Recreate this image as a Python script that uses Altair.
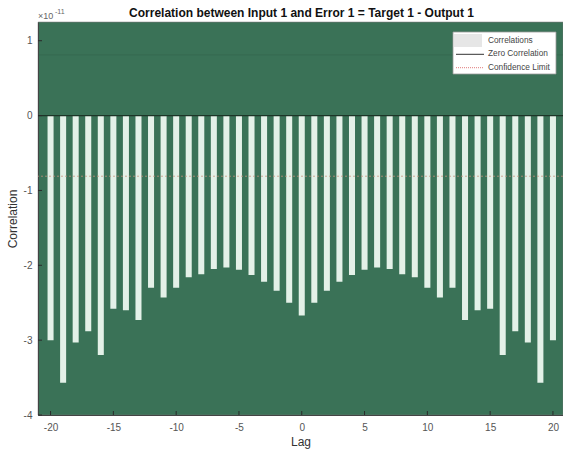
import altair as alt
import pandas as pd

# ---- data (values in units of 1e-11) ----
lags = list(range(-20, 21))
corr = [-3.00, -3.57, -3.03, -2.88, -3.20, -2.58, -2.60, -2.73, -2.30, -2.43,
        -2.30, -2.16, -2.12, -2.05, -2.03, -2.06, -2.13, -2.22, -2.34, -2.50,
        -2.67,
        -2.50, -2.34, -2.22, -2.13, -2.06, -2.03, -2.05, -2.12, -2.16, -2.30,
        -2.43, -2.30, -2.73, -2.60, -2.58, -3.20, -2.88, -3.03, -3.57, -3.00]
conf_limit = [0.81, -0.81]
x_ticks = [-20, -15, -10, -5, 0, 5, 10, 15, 20]
y_ticks = [-4, -3, -2, -1, 0, 1]
legend_labels = ["Correlations", "Zero Correlation", "Confidence Limit"]
chart_title = "Correlation between Input 1 and Error 1 = Target 1 - Output 1"

W, H = 525, 393
FONT = "Liberation Sans"
xs = alt.Scale(domain=[-21, 20.8], nice=False, zero=False)
ys = alt.Scale(domain=[-4, 1.25], nice=False, zero=False)
x_axis = alt.Axis(values=x_ticks, title="Lag", grid=False, ticks=False,
                  labelPadding=7, titlePadding=4, labelExpr="'' + datum.value")
y_axis = alt.Axis(values=y_ticks, title="Correlation", grid=False,
                  ticks=False, labelPadding=6, titlePadding=4,
                  labelExpr="'' + datum.value")

df = pd.DataFrame({"lag": lags, "corr": corr})
df["x0"] = df["lag"] - 0.24
df["x1"] = df["lag"] + 0.24
df["zero"] = 0.0

bars = alt.Chart(df).mark_bar(color="#e4f1e8", clip=True).encode(
    x=alt.X("x0:Q", scale=xs, axis=x_axis),
    x2="x1",
    y=alt.Y("corr:Q", scale=ys, axis=y_axis),
    y2="zero",
)

zero_line = alt.Chart(pd.DataFrame({"corr": [0.0]})).mark_rule(
    color="#1c3527", strokeWidth=1.3).encode(y=alt.Y("corr:Q", scale=ys, axis=y_axis))

conf_df = pd.DataFrame({"corr": conf_limit})
conf_upper = alt.Chart(conf_df.iloc[[0]]).mark_rule(
    color="#2f5a46", strokeWidth=1, opacity=0.35).encode(
    y=alt.Y("corr:Q", scale=ys, axis=y_axis))
conf_lower = alt.Chart(conf_df.iloc[[1]]).mark_rule(
    color="#c9937d", strokeWidth=1, strokeDash=[2, 2], opacity=0.75).encode(
    y=alt.Y("corr:Q", scale=ys, axis=y_axis))

xt = alt.Chart(pd.DataFrame({"x0": x_ticks})).mark_rule(color="#2a2a2a").encode(
    x=alt.X("x0:Q", scale=xs, axis=x_axis), y=alt.value(H), y2=alt.value(H - 4))
yt = alt.Chart(pd.DataFrame({"corr": y_ticks})).mark_rule(color="#2a2a2a").encode(
    y=alt.Y("corr:Q", scale=ys, axis=y_axis), x=alt.value(0), x2=alt.value(4))

one = pd.DataFrame({"a": [0]})
leg_box = alt.Chart(one).mark_rect(fill="white", stroke="#9a9a9a", strokeWidth=0.8).encode(
    x=alt.value(415), x2=alt.value(518), y=alt.value(10), y2=alt.value(52))
leg_sw = alt.Chart(one).mark_rect(fill="#e6e6e6").encode(
    x=alt.value(416), x2=alt.value(444), y=alt.value(12), y2=alt.value(25))
leg_zero = alt.Chart(one).mark_rule(color="#333333", strokeWidth=1).encode(
    x=alt.value(418), x2=alt.value(446), y=alt.value(32.3))
leg_conf = alt.Chart(one).mark_rule(color="#e07a7a", strokeWidth=1, strokeDash=[1, 1]).encode(
    x=alt.value(418), x2=alt.value(446), y=alt.value(45.7))
leg_texts = [
    alt.Chart(one).mark_text(align="left", baseline="middle", font=FONT,
                             fontSize=8.3, color="#444444").encode(
        x=alt.value(450), y=alt.value(yy), text=alt.value(lbl))
    for lbl, yy in zip(legend_labels, [18.7, 32.3, 45.7])
]

title_txt = alt.Chart(one).mark_text(align="center", baseline="alphabetic", font=FONT,
                                     fontSize=12, fontWeight="bold", color="#111111").encode(
    x=alt.value(W / 2 + 1), y=alt.value(-5), text=alt.value(chart_title))

mult = alt.Chart(one).mark_text(align="left", baseline="middle", font=FONT,
                                fontSize=9, color="#666666").encode(
    x=alt.value(0), y=alt.value(-6), text=alt.value("\u00d710"))
mult_exp = alt.Chart(one).mark_text(align="left", baseline="middle", font=FONT,
                                    fontSize=7, color="#666666").encode(
    x=alt.value(17), y=alt.value(-10), text=alt.value("-11"))

chart = alt.layer(
    bars, zero_line, conf_upper, conf_lower, xt, yt,
    leg_box, leg_sw, leg_zero, leg_conf, *leg_texts, title_txt, mult, mult_exp,
).properties(
    width=W, height=H,
    background="white",
    autosize=alt.AutoSizeParams(type="none"),
    padding={"left": 38, "top": 22, "right": 0, "bottom": 39},
).configure_view(
    fill="#3a7257", stroke="#777777", strokeWidth=0.6,
).configure_axis(
    labelFont=FONT, titleFont=FONT, labelFontSize=10, titleFontSize=12,
    labelColor="#555555", titleColor="#333333", titleFontWeight="normal",
    domainColor="#444444",
)

chart.save("out.html", embed_options={"renderer": "svg", "actions": False})
